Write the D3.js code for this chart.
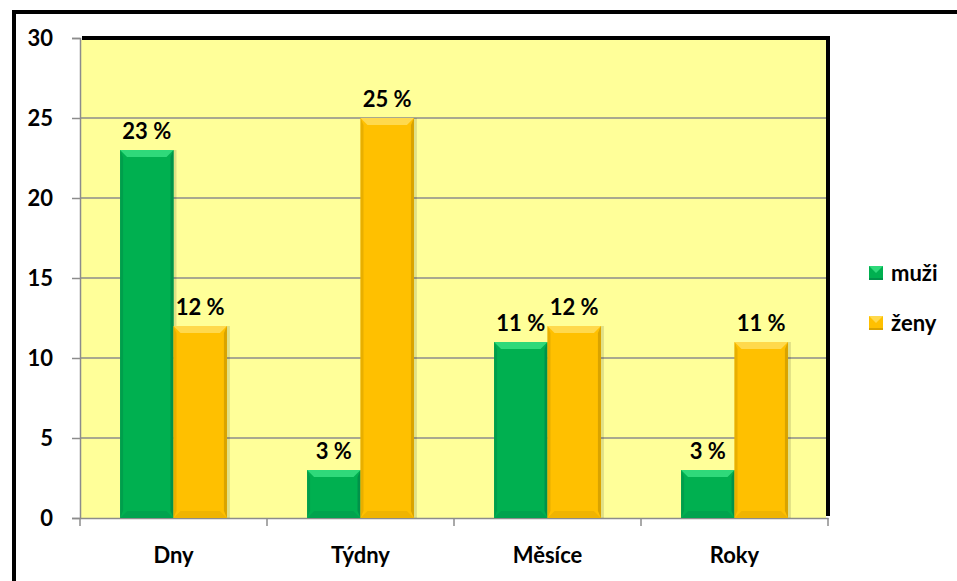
<!DOCTYPE html>
<html>
<head>
<meta charset="utf-8">
<script src="https://cdn.jsdelivr.net/npm/d3@7"></script>
<style>
  html, body { margin: 0; padding: 0; background: #fff; }
  svg { display: block; font-family: Lato, "Open Sans", sans-serif; font-weight: bold; }
</style>
</head>
<body>
<svg id="chart" width="957" height="581"></svg>
<script>
// Data
const categories = ["Dny", "Týdny", "Měsíce", "Roky"];
const seriesNames = ["muži", "ženy"];
const muzi = [23, 3, 11, 3];
const zeny = [12, 25, 12, 11];
const yTicks = [0, 5, 10, 15, 20, 25, 30];

const colors = { "muži": "#00B050", "ženy": "#FFC000" };
const light = { "muži": "#2fd97a", "ženy": "#ffd94d" };
const dark = { "muži": "#00924a", "ženy": "#d9a300" };

const svg = d3.select("#chart");
const W = 957, H = 581;
const plot = { left: 80, top: 38, right: 828, bottom: 518 };
const FS = "22px";

// Outer frame
svg.append("rect").attr("x", 14).attr("y", 12).attr("width", W).attr("height", H)
  .attr("fill", "#fff").attr("stroke", "#000").attr("stroke-width", 4);

const x = d3.scaleBand().domain(categories).range([plot.left, plot.right]).paddingInner(0).paddingOuter(0);
const xs = d3.scaleBand().domain(seriesNames).range([0, x.bandwidth()]).paddingOuter(0.75).paddingInner(0);
const y = d3.scaleLinear().domain([0, 30]).range([plot.bottom, plot.top]);

// Plot area with a dark shadow along the top and right edges
svg.append("rect").attr("x", plot.left + 2).attr("y", plot.top - 2)
  .attr("width", plot.right - plot.left).attr("height", plot.bottom - plot.top)
  .attr("fill", "#000");
svg.append("rect").attr("x", plot.left).attr("y", plot.top + 2)
  .attr("width", plot.right - plot.left - 2).attr("height", plot.bottom - plot.top - 2)
  .attr("fill", "#FFFF99");

// Gridlines
svg.append("g").selectAll("line").data(yTicks.filter(d => d > 0 && d < 30)).join("line")
  .attr("x1", plot.left).attr("x2", plot.right - 2)
  .attr("y1", d => y(d)).attr("y2", d => y(d))
  .attr("stroke", "#8c8c8c").attr("stroke-width", 1.5);

// Axes
const yAxis = d3.axisLeft(y).tickValues(yTicks).tickSize(8).tickPadding(19);
const gy = svg.append("g").attr("transform", `translate(${plot.left},0)`).call(yAxis);
gy.select(".domain").attr("stroke", "#8c8c8c").attr("stroke-width", 1.5);
gy.selectAll(".tick line").attr("stroke", "#8c8c8c").attr("stroke-width", 1.5);
gy.selectAll(".tick text").attr("fill", "#000").style("font-size", FS)
  .style("font-family", "Lato, sans-serif").style("font-weight", "bold").attr("dy", "0.35em");

const xAxis = d3.axisBottom(x).tickSize(0).tickPadding(29);
const gx = svg.append("g").attr("transform", `translate(0,${plot.bottom})`).call(xAxis);
gx.select(".domain").attr("stroke", "#8c8c8c").attr("stroke-width", 1.5);
gx.selectAll(".tick text").attr("fill", "#000").style("font-size", FS)
  .style("font-family", "Lato, sans-serif").style("font-weight", "bold");
// Category boundary ticks
svg.append("g").selectAll("line")
  .data(categories.map(c => x(c)).concat([x(categories[categories.length - 1]) + x.bandwidth()]))
  .join("line")
  .attr("x1", d => d).attr("x2", d => d)
  .attr("y1", plot.bottom).attr("y2", plot.bottom + 8)
  .attr("stroke", "#8c8c8c").attr("stroke-width", 1.5);

// Bars with bevelled edges
const rows = [];
categories.forEach((c, i) => {
  rows.push({ cat: c, s: "muži", v: muzi[i] });
  rows.push({ cat: c, s: "ženy", v: zeny[i] });
});

const bars = svg.append("g").selectAll("g").data(rows).join("g")
  .attr("transform", d => `translate(${x(d.cat) + xs(d.s)},0)`);

const bw = xs.bandwidth();
const bev = 7;
bars.append("rect").attr("x", 2).attr("y", d => y(d.v)).attr("width", bw).attr("height", d => plot.bottom - y(d.v))
  .attr("fill", "rgba(0,0,0,0.12)").attr("transform", "translate(1,0)");
bars.append("rect").attr("x", 0).attr("y", d => y(d.v)).attr("width", bw).attr("height", d => plot.bottom - y(d.v))
  .attr("fill", d => colors[d.s]);
// top bevel
bars.append("path").attr("d", d => {
  const t = y(d.v), b = plot.bottom, e = Math.min(bev, (b - t) / 2);
  return `M0,${t} L${bw},${t} L${bw - e},${t + e} L${e},${t + e} Z`;
}).attr("fill", d => light[d.s]);
// right bevel
bars.append("path").attr("d", d => {
  const t = y(d.v), b = plot.bottom, e = Math.min(bev, (b - t) / 2);
  return `M${bw},${t} L${bw},${b} L${bw - 3},${b - e} L${bw - 3},${t + e} Z`;
}).attr("fill", d => dark[d.s]);
// left bevel
bars.append("path").attr("d", d => {
  const t = y(d.v), b = plot.bottom, e = Math.min(bev, (b - t) / 2);
  return `M0,${t} L0,${b} L3,${b - e} L3,${t + e} Z`;
}).attr("fill", d => dark[d.s]).attr("opacity", 0.6);
// bottom bevel
bars.append("path").attr("d", d => {
  const t = y(d.v), b = plot.bottom, e = Math.min(bev, (b - t) / 2);
  return `M0,${b} L${bw},${b} L${bw - e},${b - e} L${e},${b - e} Z`;
}).attr("fill", d => dark[d.s]).attr("opacity", 0.4);

// Value labels
bars.append("text").attr("x", bw / 2).attr("y", d => y(d.v) - 11)
  .attr("text-anchor", "middle").style("font-size", FS).attr("fill", "#000")
  .text(d => `${d.v} %`);

// Legend
const legend = svg.append("g").attr("transform", "translate(869,273)");
const li = legend.selectAll("g").data(seriesNames).join("g")
  .attr("transform", (d, i) => `translate(0,${i * 50})`);
li.append("rect").attr("x", 0).attr("y", -7).attr("width", 14).attr("height", 14).attr("fill", d => colors[d]);
li.append("path").attr("d", "M0,-7 L14,-7 L7,0 Z").attr("fill", d => light[d]);
li.append("rect").attr("x", 0).attr("y", 5).attr("width", 14).attr("height", 2).attr("fill", d => dark[d]);
li.append("text").attr("x", 22).attr("dy", "0.35em").style("font-size", FS).attr("fill", "#000").text(d => d);
</script>
</body>
</html>
